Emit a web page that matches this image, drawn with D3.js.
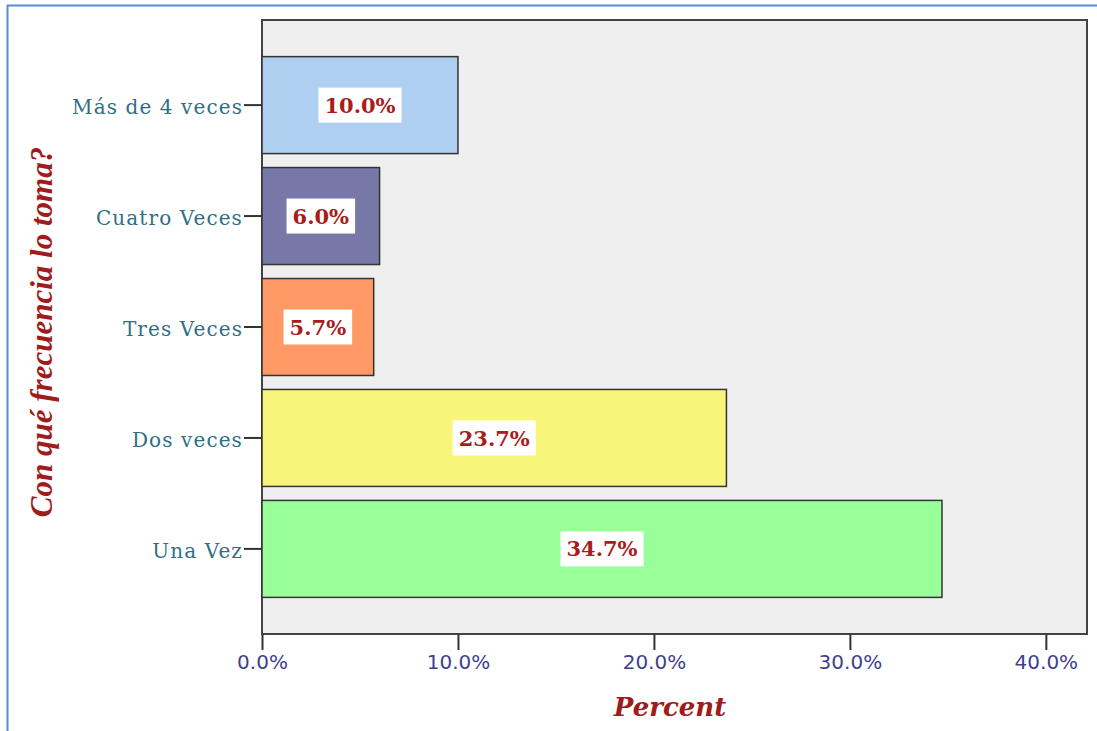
<!DOCTYPE html>
<html><head><meta charset="utf-8">
<script src="https://cdn.jsdelivr.net/npm/d3@7"></script>
<style>html,body{margin:0;padding:0;background:#fff;}svg{display:block;}</style>
</head><body>
<script>
const categories = ["Más de 4 veces", "Cuatro Veces", "Tres Veces", "Dos veces", "Una Vez"];
const values = [10.0, 6.0, 5.7, 23.7, 34.7];
const colors = ["#aecff0", "#7878a8", "#ff9966", "#f8f67a", "#99ff99"];
const xTicks = [0, 10, 20, 30, 40];
const xTitle = "Percent";
const yTitle = "Con qué frecuencia lo toma?";

const W = 1097, H = 731;
const plot = {left: 262, right: 1087, top: 20, bottom: 634};

const svg = d3.select("body").append("svg").attr("width", W).attr("height", H);

// outer frame
svg.append("line").attr("x1", 7).attr("x2", W).attr("y1", 5.5).attr("y2", 5.5).attr("stroke", "#5b8bd0").attr("stroke-width", 2);
svg.append("line").attr("x1", 7.5).attr("x2", 7.5).attr("y1", 5).attr("y2", H).attr("stroke", "#5b8bd0").attr("stroke-width", 2);

const x = d3.scaleLinear().domain([0, 42.1]).range([plot.left, plot.right]);
const y = d3.scaleBand().domain(categories).range([plot.top, plot.bottom]).paddingInner(0.126).paddingOuter(0.33);

// plot background
svg.append("rect").attr("x", plot.left).attr("y", plot.top)
  .attr("width", plot.right - plot.left).attr("height", plot.bottom - plot.top)
  .attr("fill", "#efefef").attr("stroke", "#444").attr("stroke-width", 2);

// bars
svg.selectAll("rect.bar").data(values).enter().append("rect").attr("class", "bar")
  .attr("x", x(0)).attr("y", (d, i) => y(categories[i]))
  .attr("width", d => x(d) - x(0)).attr("height", y.bandwidth())
  .attr("fill", (d, i) => colors[i]).attr("stroke", "#333").attr("stroke-width", 1.5);

// bar labels
const lab = svg.selectAll("g.lab").data(values).enter().append("g").attr("class", "lab")
  .attr("transform", (d, i) => `translate(${(x(d) + x(0)) / 2},${y(categories[i]) + y.bandwidth() / 2})`);
lab.append("rect").attr("fill", "#fff");
lab.append("text").text(d => d.toFixed(1) + "%")
  .attr("text-anchor", "middle").attr("dy", "0.36em")
  .attr("font-family", "DejaVu Serif").attr("font-weight", "bold").attr("font-size", 21)
  .attr("fill", "#a81c1c");
lab.each(function() {
  const g = d3.select(this);
  const bb = g.select("text").node().getBBox();
  g.select("rect").attr("x", bb.x - 6).attr("y", -17.5).attr("width", bb.width + 12).attr("height", 35);
});

// y axis
const yAxis = svg.append("g").attr("transform", `translate(${plot.left},0)`)
  .call(d3.axisLeft(y).tickSize(18).tickPadding(1));
yAxis.select(".domain").remove();
yAxis.selectAll(".tick line").attr("stroke", "#333").attr("stroke-width", 2);
yAxis.selectAll(".tick text").attr("font-family", "DejaVu Serif").attr("font-size", 20)
  .attr("letter-spacing", 1.1).attr("dy", "0.45em").attr("fill", "#2f6f84");

// x axis
const xAxis = svg.append("g").attr("transform", `translate(0,${plot.bottom})`)
  .call(d3.axisBottom(x).tickValues(xTicks).tickSize(16).tickPadding(5).tickFormat(d => d.toFixed(1) + "%"));
xAxis.select(".domain").remove();
xAxis.selectAll(".tick line").attr("stroke", "#333").attr("stroke-width", 2);
xAxis.selectAll(".tick text").attr("font-family", "DejaVu Sans").attr("font-size", 20).attr("fill", "#3f3f8f");

// titles
svg.append("text").text(xTitle).attr("x", 670).attr("y", 716).attr("text-anchor", "middle")
  .attr("font-family", "DejaVu Serif").attr("font-style", "italic").attr("font-weight", "bold")
  .attr("font-size", 26).attr("fill", "#a01c1c");
svg.append("text").text(yTitle).attr("transform", "translate(52,332) rotate(-90)").attr("text-anchor", "middle")
  .attr("font-family", "Liberation Serif").attr("font-style", "italic").attr("font-weight", "bold")
  .attr("font-size", 31).attr("fill", "#a01c1c");
</script>
</body></html>
